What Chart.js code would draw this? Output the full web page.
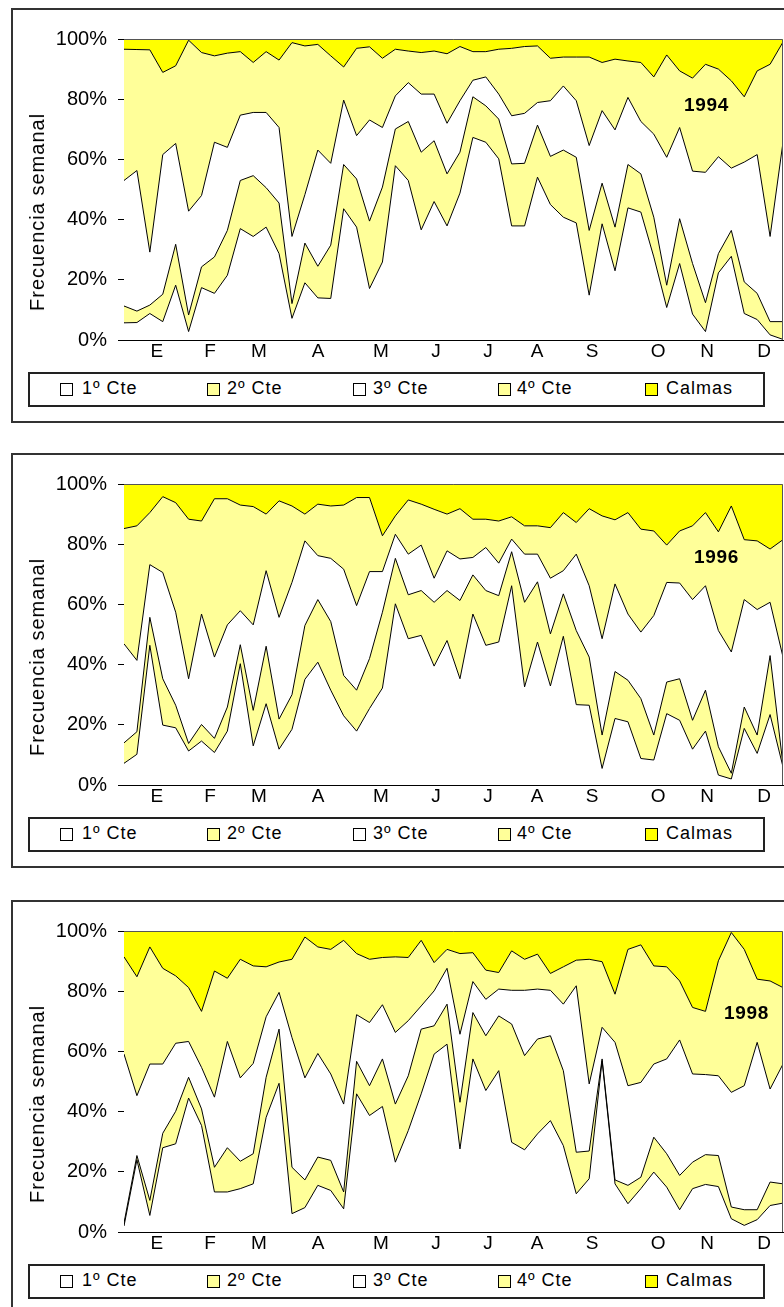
<!DOCTYPE html>
<html>
<head>
<meta charset="utf-8">
<script src="https://cdn.jsdelivr.net/npm/chart.js@4.4.1/dist/chart.umd.min.js"></script>
<style>
  html, body { margin: 0; padding: 0; background: #fff; }
  body { width: 784px; height: 1307px; overflow: hidden; position: relative;
         font-family: "Liberation Sans", Arial, sans-serif; color: #000; }
  .frame { position: absolute; left: 11px; width: 800px; height: 415px;
           border: 2px solid #333; box-sizing: border-box; }
  .legend { position: absolute; left: 28px; width: 737px; height: 35px;
            border: 2px solid #222; box-sizing: border-box; }
  .sw { position: absolute; width: 13px; height: 13px; border: 1px solid #000; box-sizing: border-box; }
  .lt { position: absolute; font-size: 18px; letter-spacing: 1px; line-height: 20px; white-space: nowrap; }
  .year { position: absolute; font-size: 19px; font-weight: bold; letter-spacing: 0.7px;
          line-height: 22px; white-space: nowrap; }
  .ytitle { position: absolute; left: 37px; font-size: 20px; letter-spacing: 1px; white-space: nowrap;
            transform: translate(-50%, -50%) rotate(-90deg); line-height: 22px; }
  canvas { position: absolute; left: 0; }
</style>
</head>
<body>
<script>
// ---------- data ----------
const weeks = Array.from({length: 52}, (_, i) => i + 1);          // week number (category)
const monthNames = ['E','F','M','A','M','J','J','A','S','O','N','D'];
const monthPos   = [3.55, 7.66, 11.45, 16.02, 20.89, 25.15, 29.17, 32.97, 37.22, 42.33, 46.12, 50.54];
const yTickValues = [0, 20, 40, 60, 80, 100];
const seriesNames = ['1º Cte', '2º Cte', '3º Cte', '4º Cte', 'Calmas'];
const years = ['1994', '1996', '1998'];

// Upper edge (cumulative %) of each band.
// 1994
const c1_1994 = [5.7,5.8,8.8,6.1,18.2,2.8,17.4,15.5,21.5,37.0,34.4,37.5,28.7,7.2,19.0,14.0,13.8,43.6,37.5,17.1,25.9,57.9,53.0,36.6,46.0,37.9,48.8,67.3,65.7,60.2,37.9,37.9,54.1,45.0,40.8,38.9,14.9,38.6,23.0,43.9,42.5,27.6,10.8,25.4,8.6,2.8,22.3,27.8,8.8,6.8,1.7,0.2];
const c2_1994 = [11.3,9.6,11.6,15.2,31.8,8.3,24.3,27.6,36.4,53.0,54.6,50.6,45.5,12.1,32.2,24.5,31.5,58.3,53.5,39.5,50.8,70.1,72.6,62.4,66.2,55.2,62.4,80.8,77.8,73.4,58.5,58.7,71.4,61.0,63.1,60.7,36.4,52.1,37.5,58.3,55.2,40.8,18.2,40.3,25.4,12.4,28.7,36.4,19.3,15.5,6.1,6.1];
const c3_1994 = [53.0,56.3,29.2,61.6,65.3,42.8,48.0,65.7,64.0,74.7,75.6,75.6,70.6,34.4,48.3,63.1,58.7,79.7,67.9,73.1,70.6,81.1,85.5,81.7,81.7,72.0,79.5,86.3,87.4,81.7,74.5,75.3,78.9,79.5,84.4,79.5,64.6,76.2,69.8,80.6,72.6,68.4,60.7,70.6,56.1,55.7,60.9,57.1,59.1,61.6,34.4,65.7];
const c4_1994 = [96.6,96.5,96.4,88.9,91.1,99.6,95.5,94.4,95.3,95.8,92.2,95.8,93.0,98.8,97.7,98.2,94.4,90.7,96.9,97.4,93.6,96.6,96.0,95.5,96.0,95.1,97.5,95.8,95.8,96.6,96.9,97.5,97.7,93.6,94.0,94.0,94.0,92.2,93.3,92.7,92.2,87.4,94.7,89.4,87.0,91.6,90.0,86.1,80.8,89.4,91.6,99.0];
// 1996
const c1_1996 = [7.2,10.2,46.4,19.9,19.0,11.3,14.6,10.8,17.9,40.3,13.0,27.0,11.9,18.5,35.1,40.8,31.5,23.0,17.9,25.4,32.2,60.2,48.6,49.7,39.5,48.0,35.3,56.8,46.4,47.5,66.2,32.6,47.5,32.9,49.4,26.7,26.5,5.5,22.1,21.0,8.8,8.3,23.7,21.5,11.9,17.9,3.3,2.0,18.8,10.5,23.4,6.0];
const c2_1996 = [14.0,17.7,55.7,35.3,26.5,13.8,20.1,15.5,25.9,46.6,24.8,46.1,21.9,30.0,53.0,61.6,54.3,36.4,31.5,42.0,57.4,75.3,63.2,64.6,60.7,64.6,61.3,69.8,64.6,62.9,77.5,60.7,67.5,50.2,63.5,51.3,42.5,16.6,37.7,34.8,28.7,16.6,34.2,35.3,21.5,31.5,12.7,3.9,25.9,16.6,43.0,6.6];
const c3_1996 = [46.9,41.4,73.2,70.6,57.4,35.3,56.8,42.5,53.2,57.9,53.2,71.2,55.7,67.3,81.1,76.2,75.3,71.7,59.6,70.9,70.9,83.3,76.7,79.7,68.7,77.8,75.1,75.6,78.9,73.7,81.7,76.7,76.7,68.7,71.2,76.7,66.2,48.6,66.8,56.8,50.8,56.3,67.3,67.1,61.6,66.2,51.3,44.2,61.6,58.3,60.7,42.5];
const c4_1996 = [85.2,86.1,90.5,95.8,93.8,88.3,87.7,95.1,95.1,93.0,92.5,90.0,94.4,92.7,90.0,93.3,92.7,93.0,95.5,95.5,82.8,89.4,94.7,93.3,91.6,90.0,91.8,88.3,88.3,87.7,89.1,86.1,86.1,85.5,90.5,87.2,91.8,89.4,88.1,90.5,85.0,84.4,79.7,84.4,86.1,90.5,84.1,92.7,81.5,81.1,78.4,81.5];
// 1998
const c1_1998 = [2.0,24.0,5.5,28.0,29.3,44.5,35.4,13.3,13.3,14.4,16.0,38.1,49.4,6.1,8.1,15.5,13.8,7.7,45.9,38.7,41.7,23.2,33.7,45.9,59.1,62.4,27.6,57.5,47.0,53.6,29.8,27.3,32.6,37.0,28.7,12.7,17.7,56.9,16.0,9.4,14.4,19.9,14.9,7.4,14.4,15.8,15.1,4.4,2.2,4.1,8.8,9.6];
const c2_1998 = [3.0,25.4,10.5,32.8,40.1,51.4,40.9,21.5,28.0,23.5,26.0,51.4,67.4,21.5,17.3,24.9,23.8,13.3,56.7,48.6,57.5,42.5,51.9,67.4,68.5,75.7,43.1,72.9,65.2,71.8,69.1,58.6,64.1,65.2,53.6,26.5,26.9,57.5,17.3,15.5,18.2,31.5,26.0,18.8,23.2,25.7,25.4,8.3,7.4,7.4,16.6,16.0];
const c3_1998 = [59.1,45.3,55.8,55.8,62.7,63.3,54.7,44.8,63.3,51.2,56.0,71.5,79.6,64.6,51.2,59.3,52.5,42.5,72.2,69.6,75.5,66.3,70.2,75.1,80.1,87.6,65.7,83.2,77.3,80.7,80.3,80.3,80.7,80.3,75.7,81.8,49.2,68.0,63.0,48.6,49.7,55.8,57.5,63.8,52.5,52.3,51.9,46.4,48.6,63.0,47.5,55.8];
const c4_1998 = [91.4,84.8,94.7,87.6,85.1,81.2,73.3,86.7,84.3,90.6,88.4,88.1,89.7,90.6,98.0,94.7,93.9,96.9,92.5,90.6,91.2,91.4,91.2,96.9,89.5,93.9,92.5,92.8,87.0,86.2,93.4,90.6,92.3,85.9,88.1,90.3,90.6,89.8,79.0,93.9,95.4,88.4,88.1,83.4,74.6,73.3,90.1,99.5,93.9,84.0,83.4,81.2];

const panelData = [
  [c1_1994, c2_1994, c3_1994, c4_1994],
  [c1_1996, c2_1996, c3_1996, c4_1996],
  [c1_1998, c2_1998, c3_1998, c4_1998]
];

// ---------- style ----------
const WHITE = '#FFFFFF', PALE = '#FFFF99', BRIGHT = '#FFFF00';
const bandColors = [WHITE, PALE, WHITE, PALE, BRIGHT];
const offsets = [0, 445, 892];
const FONT = '"Liberation Sans", Arial, sans-serif';

const plotFrame = {
  id: 'plotFrame',
  afterDraw(chart) {
    const {ctx, chartArea: a} = chart;
    ctx.save();
    ctx.strokeStyle = '#555';
    ctx.lineWidth = 1;
    ctx.beginPath();
    ctx.moveTo(a.left, a.top + 0.5);
    ctx.lineTo(a.right - 0.5, a.top + 0.5);
    ctx.lineTo(a.right - 0.5, a.bottom);
    ctx.stroke();
    ctx.restore();
  }
};

function addDiv(cls, style, text) {
  const d = document.createElement('div');
  d.className = cls;
  Object.assign(d.style, style);
  if (text !== undefined) d.textContent = text;
  document.body.appendChild(d);
  return d;
}

panelData.forEach((bands, p) => {
  const off = offsets[p];
  addDiv('frame', {top: (off + 8) + 'px'});

  const cv = document.createElement('canvas');
  cv.width = 784; cv.height = 352;
  cv.style.top = (off + 16) + 'px';
  document.body.appendChild(cv);

  const datasets = bands.map((arr, k) => ({
    label: seriesNames[k],
    data: arr,
    fill: k === 0 ? 'origin' : '-1',
    backgroundColor: bandColors[k],
    borderColor: '#000',
    borderWidth: 1,
    pointRadius: 0,
    tension: 0
  }));
  // Calmas: band from the top of 4º Cte up to 100 %
  datasets.push({
    label: seriesNames[4],
    data: bands[3],
    fill: 'end',
    backgroundColor: BRIGHT,
    borderColor: 'rgba(0,0,0,0)',
    borderWidth: 0,
    pointRadius: 0,
    tension: 0
  });

  new Chart(cv, {
    type: 'line',
    data: { labels: weeks, datasets },
    options: {
      responsive: false,
      animation: false,
      layout: { padding: { top: 12, right: 1, left: 0, bottom: 0 } },
      plugins: {
        legend: { display: false },
        tooltip: { enabled: false },
        filler: { drawTime: 'beforeDatasetsDraw' }
      },
      scales: {
        x: {
          type: 'linear', min: 1, max: 52,
          afterFit(s) { s.height = 28; },
          afterBuildTicks(s) { s.ticks = monthPos.map(v => ({ value: v })); },
          ticks: {
            autoSkip: false, maxRotation: 0, padding: 0, color: '#000',
            font: { family: FONT, size: 19 },
            callback: (v, i) => monthNames[i]
          },
          grid: { display: false, drawTicks: false },
          border: { display: true, color: '#000', width: 1 }
        },
        y: {
          min: 0, max: 100,
          afterFit(s) { s.width = 124; },
          afterBuildTicks(s) { s.ticks = yTickValues.map(v => ({ value: v })); },
          ticks: {
            padding: 11, color: '#000',
            font: { family: FONT, size: 20 },
            callback: v => v + '%'
          },
          grid: { display: true, drawOnChartArea: false, drawTicks: true, tickLength: 6, color: '#000', lineWidth: 1 },
          border: { display: true, color: '#000', width: 1 }
        }
      }
    },
    plugins: [plotFrame]
  });

  addDiv('ytitle', {top: (off + 212) + 'px'}, 'Frecuencia semanal');

  const yearPos = [[684, 94], [694, 546], [724, 1002]];
  addDiv('year', {left: yearPos[p][0] + 'px', top: yearPos[p][1] + 'px'}, years[p]);

  // legend
  addDiv('legend', {top: (off + 372) + 'px'});
  const swX = [60, 207, 353, 498, 645];
  const txX = [82, 227, 373, 517, 666];
  seriesNames.forEach((name, k) => {
    addDiv('sw', {left: swX[k] + 'px', top: (off + 383) + 'px', background: bandColors[k]});
    addDiv('lt', {left: txX[k] + 'px', top: (off + 378) + 'px'}, name);
  });
});
</script>
</body>
</html>
